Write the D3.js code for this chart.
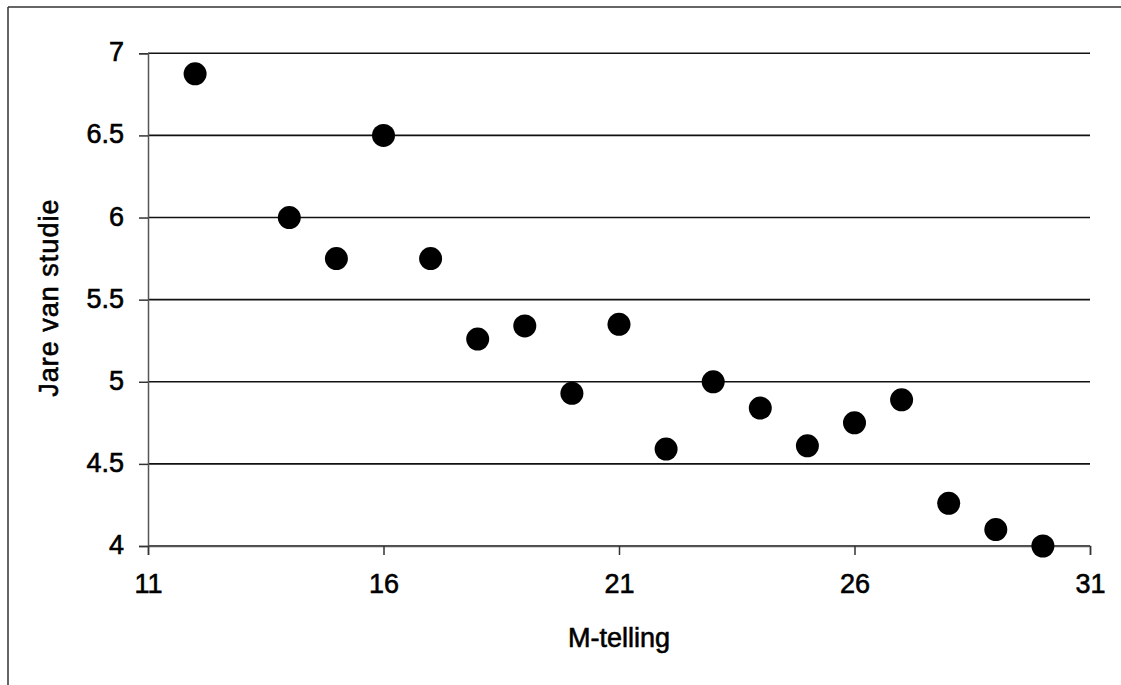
<!DOCTYPE html>
<html><head><meta charset="utf-8">
<script src="https://cdn.jsdelivr.net/npm/d3@7"></script>
<style>
html,body{margin:0;padding:0;background:#fff;}
svg{display:block;}
text{font-family:"Liberation Sans",Arial,sans-serif;fill:#000;stroke:#000;stroke-width:0.6px;}
</style></head>
<body>
<svg id="chart" width="1121" height="685"></svg>
<script>
const mTelling = [12,14,15,16,17,18,19,20,21,22,23,24,25,26,27,28,29,30];
const jareVanStudie = [6.875,6.0,5.75,6.5,5.75,5.26,5.34,4.93,5.35,4.59,5.0,4.84,4.61,4.75,4.89,4.26,4.1,4.0];
const xTicks = [11,16,21,26,31];
const yTicks = [4,4.5,5,5.5,6,6.5,7];
const xTitle = "M-telling";
const yTitle = "Jare van studie";

const svg = d3.select("#chart");
const W = 1121, H = 685;
const m = {left:148, right:1090, top:53.3, bottom:546};

// outer frame (left + top visible)
svg.append("line").attr("x1",8).attr("x2",8).attr("y1",7).attr("y2",H).attr("stroke","#333").attr("stroke-width",1.5);
svg.append("line").attr("x1",8).attr("x2",W).attr("y1",7).attr("y2",7).attr("stroke","#333").attr("stroke-width",1.5);

const x = d3.scaleLinear().domain([11,31]).range([m.left,m.right]);
const y = d3.scaleLinear().domain([4,7]).range([m.bottom,m.top]);

// gridlines
svg.append("g").selectAll("line").data(yTicks).join("line")
  .attr("x1",m.left).attr("x2",m.right)
  .attr("y1",d=>y(d)).attr("y2",d=>y(d))
  .attr("stroke","#111").attr("stroke-width",1.6);

// y axis
const yAxis = d3.axisLeft(y).tickValues(yTicks).tickFormat(d3.format("")).tickSize(9).tickPadding(15);
const gy = svg.append("g").attr("transform",`translate(${m.left},0)`).call(yAxis);
gy.select(".domain").attr("stroke","#555").attr("stroke-width",1.5);
gy.selectAll(".tick line").attr("stroke","#333").attr("stroke-width",1.5);
gy.selectAll(".tick text").attr("font-size",27).attr("font-family","Liberation Sans, Arial, sans-serif").attr("dy","0.28em");

// x axis
const xAxis = d3.axisBottom(x).tickValues(xTicks).tickSize(9).tickPadding(19);
const gx = svg.append("g").attr("transform",`translate(0,${m.bottom})`).call(xAxis);
gx.select(".domain").attr("stroke","#555").attr("stroke-width",1.5);
gx.selectAll(".tick line").attr("stroke","#333").attr("stroke-width",1.5);
gx.selectAll(".tick text").attr("font-size",27).attr("font-family","Liberation Sans, Arial, sans-serif");

// points
svg.append("g").selectAll("circle").data(mTelling.map((v,i)=>[v,jareVanStudie[i]])).join("circle")
  .attr("cx",d=>x(d[0])).attr("cy",d=>y(d[1])).attr("r",11.5).attr("fill","#000");

// titles
svg.append("text").attr("x",(m.left+m.right)/2).attr("y",647)
  .attr("text-anchor","middle").attr("font-size",27).text(xTitle);
svg.append("text").attr("transform",`translate(58,${(m.top+m.bottom)/2 - 2}) rotate(-90)`)
  .attr("text-anchor","middle").attr("font-size",27).attr("letter-spacing","1px").text(yTitle);
</script>
</body></html>
